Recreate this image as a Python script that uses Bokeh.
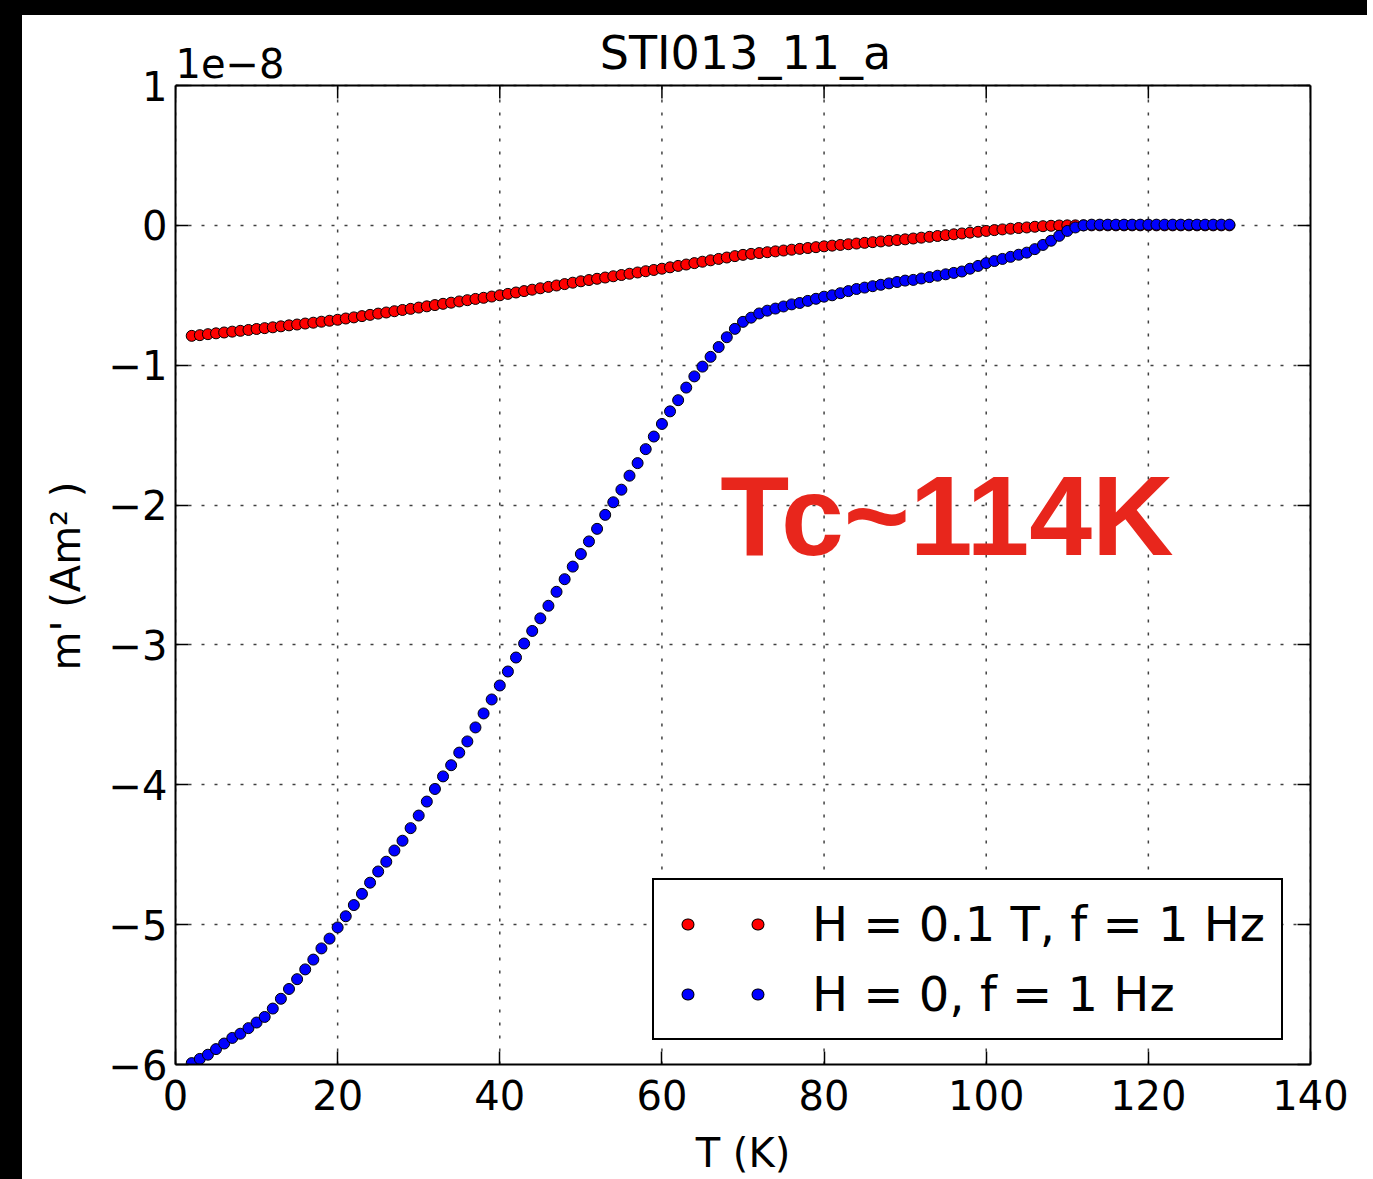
from bokeh.plotting import figure
from bokeh.models import LinearAxis, FixedTicker, Label, Legend, LegendItem, Spacer, Range1d, Span, Title
from bokeh.layouts import column, row
from bokeh.embed import file_html
from bokeh.resources import INLINE

# Temperature (K)
T = [2, 3, 4, 5, 6, 7, 8, 9, 10, 11,
     12, 13, 14, 15, 16, 17, 18, 19, 20, 21,
     22, 23, 24, 25, 26, 27, 28, 29, 30, 31,
     32, 33, 34, 35, 36, 37, 38, 39, 40, 41,
     42, 43, 44, 45, 46, 47, 48, 49, 50, 51,
     52, 53, 54, 55, 56, 57, 58, 59, 60, 61,
     62, 63, 64, 65, 66, 67, 68, 69, 70, 71,
     72, 73, 74, 75, 76, 77, 78, 79, 80, 81,
     82, 83, 84, 85, 86, 87, 88, 89, 90, 91,
     92, 93, 94, 95, 96, 97, 98, 99, 100, 101,
     102, 103, 104, 105, 106, 107, 108, 109, 110, 111,
     112, 113, 114, 115, 116, 117, 118, 119, 120, 121,
     122, 123, 124, 125, 126, 127, 128, 129, 130]

# m' (1e-8 Am^2), H = 0.1 T, f = 1 Hz
m_field = [-0.790, -0.785, -0.778, -0.772, -0.766, -0.760, -0.754, -0.748, -0.741, -0.735,
           -0.729, -0.722, -0.715, -0.709, -0.702, -0.696, -0.689, -0.682, -0.675, -0.666,
           -0.658, -0.649, -0.640, -0.631, -0.623, -0.614, -0.605, -0.597, -0.588, -0.579,
           -0.570, -0.561, -0.553, -0.544, -0.535, -0.526, -0.518, -0.509, -0.500, -0.490,
           -0.480, -0.470, -0.460, -0.450, -0.440, -0.430, -0.420, -0.410, -0.400, -0.391,
           -0.382, -0.373, -0.364, -0.355, -0.346, -0.337, -0.328, -0.319, -0.310, -0.300,
           -0.290, -0.280, -0.270, -0.260, -0.250, -0.240, -0.230, -0.220, -0.211, -0.204,
           -0.198, -0.192, -0.186, -0.180, -0.174, -0.168, -0.162, -0.156, -0.150, -0.145,
           -0.140, -0.135, -0.130, -0.125, -0.120, -0.115, -0.110, -0.105, -0.100, -0.094,
           -0.088, -0.082, -0.076, -0.070, -0.064, -0.058, -0.052, -0.046, -0.040, -0.034,
           -0.029, -0.024, -0.019, -0.015, -0.010, -0.006, -0.003, -0.001, 0.000, 0.000,
           0.000, 0.000, 0.000, 0.000, 0.000, 0.000, 0.000, 0.000, 0.000, 0.000,
           0.000, 0.000, 0.000, 0.000, 0.000, 0.000, 0.000, 0.000, 0.000]

# m' (1e-8 Am^2), H = 0, f = 1 Hz
m_zero = [-5.99, -5.96, -5.93, -5.89, -5.85, -5.81, -5.78, -5.74, -5.70, -5.66,
          -5.60, -5.53, -5.46, -5.39, -5.32, -5.25, -5.17, -5.10, -5.02, -4.94,
          -4.86, -4.78, -4.70, -4.62, -4.55, -4.47, -4.40, -4.31, -4.22, -4.12,
          -4.03, -3.94, -3.86, -3.77, -3.69, -3.59, -3.49, -3.39, -3.29, -3.19,
          -3.09, -2.99, -2.90, -2.81, -2.72, -2.62, -2.53, -2.44, -2.35, -2.26,
          -2.17, -2.07, -1.98, -1.89, -1.79, -1.70, -1.60, -1.51, -1.42, -1.33,
          -1.25, -1.16, -1.08, -1.01, -0.94, -0.87, -0.80, -0.74, -0.69, -0.66,
          -0.63, -0.61, -0.595, -0.58, -0.565, -0.555, -0.54, -0.525, -0.51, -0.50,
          -0.485, -0.47, -0.455, -0.445, -0.435, -0.425, -0.415, -0.405, -0.395, -0.39,
          -0.38, -0.37, -0.36, -0.35, -0.34, -0.33, -0.31, -0.29, -0.27, -0.255,
          -0.24, -0.225, -0.21, -0.195, -0.17, -0.14, -0.11, -0.075, -0.04, -0.015,
          0.0, 0.005, 0.005, 0.005, 0.005, 0.005, 0.005, 0.005, 0.005, 0.005,
          0.005, 0.005, 0.005, 0.005, 0.005, 0.005, 0.005, 0.005, 0.005]

x_ticks = [0, 20, 40, 60, 80, 100, 120, 140]
y_ticks = [-6, -5, -4, -3, -2, -1, 0, 1]
y_tick_labels = ["\u22126", "\u22125", "\u22124", "\u22123", "\u22122", "\u22121", "0", "1"]

series_labels = ["H = 0.1 T, f = 1 Hz", "H = 0, f = 1 Hz"]
series_colors = ["#ff0000", "#0000ff"]

FONT = "DejaVu Sans"
NAN = float("nan")

X_MIN, X_MAX = x_ticks[0], x_ticks[-1]
Y_MIN, Y_MAX = y_ticks[0], y_ticks[-1]
PX_PER_UNIT = 979 / (Y_MAX - Y_MIN)  # vertical scale of the axes box
BAND = 70                            # px band above the axes box for the title texts
Y_TOP = Y_MAX + BAND / PX_PER_UNIT
TICK_LEN = 13

p = figure(width=1351, height=1164, x_range=Range1d(X_MIN, X_MAX), y_range=Range1d(Y_MIN, Y_TOP),
           output_backend="svg", toolbar_location=None,
           min_border_left=153, min_border_right=63, min_border_top=0, min_border_bottom=115,
           x_axis_label="T (K)")
p.background_fill_color = "white"
p.border_fill_color = "white"
p.outline_line_color = None

def style_axis(ax, show_labels=True):
    ax.major_tick_in = TICK_LEN
    ax.major_tick_out = 0
    ax.minor_tick_in = 0
    ax.minor_tick_out = 0
    ax.major_tick_line_color = "black"
    ax.major_tick_line_width = 1.5
    ax.axis_line_color = "black"
    ax.axis_line_width = 2
    ax.major_label_text_font = FONT
    ax.major_label_text_color = "black"
    ax.major_label_text_font_size = "40px" if show_labels else "0px"
    ax.axis_label_text_font = FONT
    ax.axis_label_text_font_size = "40px"
    ax.axis_label_text_font_style = "normal"
    ax.axis_label_text_color = "black"

p.xaxis.ticker = FixedTicker(ticks=x_ticks)
p.yaxis.ticker = FixedTicker(ticks=y_ticks)
p.yaxis.bounds = (Y_MIN, Y_MAX)
p.yaxis.major_label_overrides = {t: s for t, s in zip(y_ticks, y_tick_labels)}
style_axis(p.xaxis[0])
style_axis(p.yaxis[0])
p.xaxis.major_label_standoff = 15
p.xaxis.axis_label_standoff = 17
p.yaxis.major_label_standoff = 8

# y-axis label, placed along the axes box (not the taller frame)
ylab = Title(text="m' (Am\u00b2 )", align="left", offset=394, standoff=33,
             text_font=FONT, text_font_size="40px", text_font_style="normal",
             text_color="black")
p.add_layout(ylab, "left")

right_ax = LinearAxis(ticker=FixedTicker(ticks=y_ticks), bounds=(Y_MIN, Y_MAX))
style_axis(right_ax, show_labels=False)
p.add_layout(right_ax, "right")

# top edge of the axes box
p.add_layout(Span(location=Y_MAX, dimension="width", line_color="black", line_width=2))

# horizontal dotted grid
p.ygrid.ticker = FixedTicker(ticks=y_ticks)
p.ygrid.grid_line_color = "black"
p.ygrid.grid_line_dash = "3 10"
p.ygrid.grid_line_width = 1.5
p.ygrid.grid_line_alpha = 0.75
p.xgrid.visible = False

# vertical dotted grid limited to the axes box, and inner ticks on the top edge
p.segment(x0=x_ticks, y0=[Y_MIN] * len(x_ticks), x1=x_ticks, y1=[Y_MAX] * len(x_ticks),
          line_color="black", line_dash="3 10", line_width=1.5, line_alpha=0.75)
p.segment(x0=x_ticks, y0=[Y_MAX] * len(x_ticks), x1=x_ticks,
          y1=[Y_MAX - TICK_LEN / PX_PER_UNIT] * len(x_ticks),
          line_color="black", line_width=1.5)

p.scatter(T, m_field, marker="circle", size=11, fill_color=series_colors[0],
          line_color="black", line_width=1)
p.scatter(T, m_zero, marker="circle", size=11, fill_color=series_colors[1],
          line_color="black", line_width=1)

# legend: two dots per entry (matplotlib numpoints=2) via round-capped short dashes
items = []
for lab, col in zip(series_labels, series_colors):
    bg = p.line([NAN], [NAN], line_color="black", line_width=12, line_dash="1 69",
                line_cap="round", line_dash_offset=53)
    fg = p.line([NAN], [NAN], line_color=col, line_width=10, line_dash="1 69",
                line_cap="round", line_dash_offset=53)
    items.append(LegendItem(label=lab, renderers=[bg, fg]))

legend = Legend(items=items, location=(477, 24), padding=16, spacing=14,
                glyph_width=95, glyph_height=50, label_height=50, label_standoff=47,
                label_text_font=FONT, label_text_font_size="48px", label_text_color="black",
                border_line_color="black", border_line_width=2, border_line_alpha=1,
                background_fill_color="white", background_fill_alpha=1, margin=0)
p.add_layout(legend, "center")

# title and offset text in the band above the axes box
p.add_layout(Label(x=70.3, y=Y_MAX + 32.5 / PX_PER_UNIT, text="STI013_11_a",
                   text_align="center", text_baseline="middle", text_font=FONT,
                   text_font_size="46px", text_color="black"))
p.add_layout(Label(x=X_MIN, y=Y_MAX + 23 / PX_PER_UNIT, text="1e\u22128",
                   text_align="left", text_baseline="middle", text_font=FONT,
                   text_font_size="40px", text_color="black"))
p.add_layout(Label(x=67.2, y=-2.08, text="Tc~114K", text_align="left",
                   text_baseline="middle", text_font="Liberation Sans",
                   text_font_style="bold", text_font_size="113px", text_color="#E8261C"))

top_bar = Spacer(width=1367, height=15, styles={"background-color": "black"})
left_bar = Spacer(width=22, height=1164, styles={"background-color": "black"})
layout = column(top_bar, row(left_bar, p))

open("out.html", "w").write(file_html(layout, INLINE))
